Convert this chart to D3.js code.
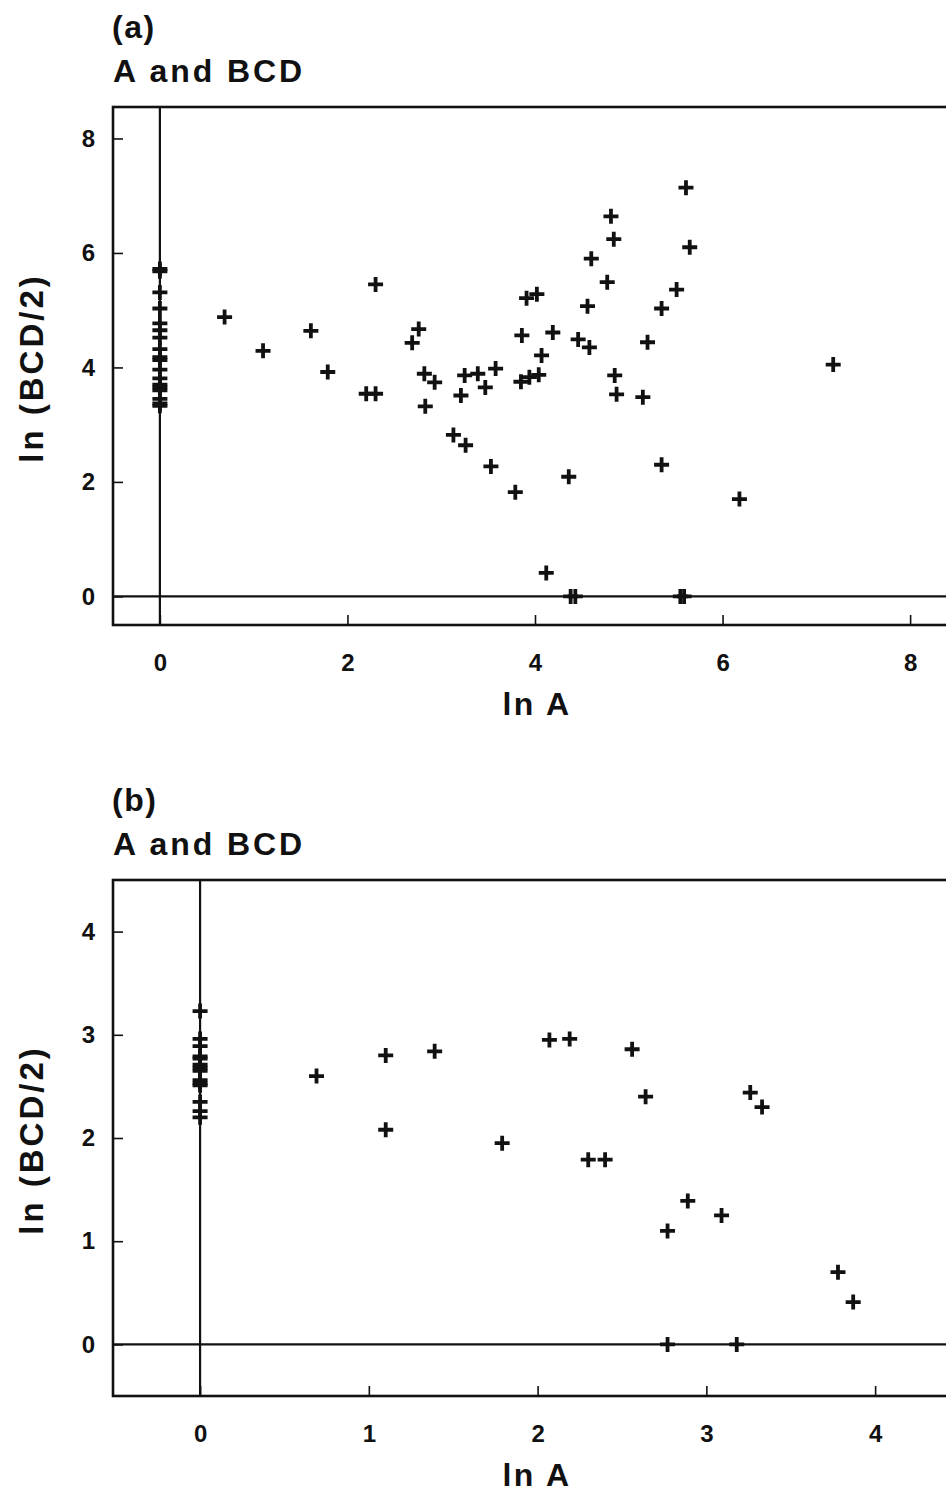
<!DOCTYPE html>
<html><head><meta charset="utf-8">
<script src="https://cdn.jsdelivr.net/npm/d3@7"></script>
<style>
html,body{margin:0;padding:0;background:#fff;}
svg{display:block;}
text{font-family:"Liberation Sans",Arial,Helvetica,sans-serif;font-weight:bold;fill:#111;}
</style></head>
<body>
<svg id="chart" width="946" height="1493"></svg>
<script>
// ---- Panel (a) data ----
const panelATitle = ["(a)", "A and BCD"];
const aZeroY = [5.72, 5.68, 5.31, 5.03, 4.77, 4.65, 4.52, 4.32, 4.18, 4.13, 3.96, 3.81, 3.70, 3.65, 3.60, 3.45, 3.37, 3.33];
const aX = [0.69,1.10,1.61,1.79,2.30,2.20,2.30,2.76,2.69,2.82,2.93,2.83,3.25,3.21,3.39,3.47,3.58,3.13,3.26,3.53,3.79,3.86,3.91,4.02,4.07,3.85,3.94,4.04,4.12,5.61,4.81,4.84,5.65,4.60,4.77,5.51,4.56,5.35,4.19,4.46,4.58,5.20,4.85,4.87,5.15,7.18,4.36,5.35,6.18,4.38,4.43,5.55,5.59];
const aY = [4.88,4.29,4.64,3.92,5.45,3.54,3.54,4.67,4.43,3.89,3.74,3.32,3.86,3.51,3.89,3.65,3.98,2.82,2.64,2.27,1.82,4.56,5.21,5.28,4.21,3.75,3.83,3.87,0.41,7.14,6.64,6.24,6.10,5.90,5.49,5.36,5.07,5.03,4.61,4.49,4.35,4.44,3.86,3.53,3.48,4.05,2.09,2.30,1.70,0,0,0,0];
const aXTicks = [0, 2, 4, 6, 8];
const aYTicks = [0, 2, 4, 6, 8];

// ---- Panel (b) data ----
const panelBTitle = ["(b)", "A and BCD"];
const bZeroY = [3.23, 2.96, 2.89, 2.79, 2.77, 2.71, 2.68, 2.65, 2.56, 2.53, 2.51, 2.35, 2.26, 2.20];
const bX = [0.69,1.10,1.10,1.39,1.79,2.07,2.19,2.56,2.64,3.26,3.33,2.30,2.40,2.89,3.09,2.77,3.78,3.87,2.77,3.18];
const bY = [2.60,2.80,2.08,2.84,1.95,2.95,2.96,2.86,2.40,2.44,2.30,1.79,1.79,1.39,1.25,1.10,0.70,0.41,0,0];
const bXTicks = [0, 1, 2, 3, 4];
const bYTicks = [0, 1, 2, 3, 4];

const xLabel = "ln A";
const yLabel = "ln (BCD/2)";

const svg = d3.select("#chart");
svg.append("rect").attr("width", 946).attr("height", 1493).attr("fill", "#fff");

function panel(cfg) {
  const g = svg.append("g");
  const x = d3.scaleLinear().domain(cfg.xDomain).range([113, cfg.right]);
  const y = d3.scaleLinear().domain(cfg.yDomain).range([cfg.bottom, cfg.top]);
  const [x0, x1] = x.range();
  const [y0, y1] = y.range();

  // titles
  g.append("text").attr("x", 112).attr("y", cfg.top - 69)
    .attr("font-size", 32).attr("letter-spacing", 1.5).text(cfg.title[0]);
  g.append("text").attr("x", 113).attr("y", cfg.top - 25)
    .attr("font-size", 32).attr("letter-spacing", 2.9).text(cfg.title[1]);

  // reference lines at 0
  g.append("line").attr("x1", x(0)).attr("x2", x(0)).attr("y1", y1).attr("y2", y0)
    .attr("stroke", "#111").attr("stroke-width", 2.2);
  g.append("line").attr("x1", x0).attr("x2", x1).attr("y1", y(0)).attr("y2", y(0))
    .attr("stroke", "#111").attr("stroke-width", 2.2);

  // frame
  g.append("rect").attr("x", x0).attr("y", y1).attr("width", x1 - x0).attr("height", y0 - y1)
    .attr("fill", "none").attr("stroke", "#111").attr("stroke-width", 2.6);

  // axes (inward ticks)
  const xAxis = d3.axisBottom(x).tickValues(cfg.xTicks).tickSize(-10).tickPadding(29)
    .tickFormat(d3.format("d"));
  const gx = g.append("g").attr("transform", `translate(0,${y0})`).call(xAxis);
  gx.select(".domain").remove();
  gx.selectAll(".tick line").attr("stroke", "#111").attr("stroke-width", 1.6);
  gx.selectAll(".tick text").attr("font-size", 24).attr("font-family", "Liberation Sans, Arial, sans-serif")
    .attr("font-weight", "bold").attr("fill", "#111");

  const yAxis = d3.axisLeft(y).tickValues(cfg.yTicks).tickSize(-10).tickPadding(18)
    .tickFormat(d3.format("d"));
  const gy = g.append("g").attr("transform", `translate(${x0},0)`).call(yAxis);
  gy.select(".domain").remove();
  gy.selectAll(".tick line").attr("stroke", "#111").attr("stroke-width", 1.6);
  gy.selectAll(".tick text").attr("font-size", 24).attr("font-family", "Liberation Sans, Arial, sans-serif")
    .attr("font-weight", "bold").attr("fill", "#111");

  // axis titles
  g.append("text").attr("x", 537).attr("y", y0 + 90).attr("text-anchor", "middle")
    .attr("font-size", 32).attr("letter-spacing", 2.5).text(xLabel);
  g.append("text").attr("transform", `translate(43,${(y0 + y1) / 2 + 2}) rotate(-90)`)
    .attr("text-anchor", "middle").attr("font-size", 33).attr("letter-spacing", 3).text(yLabel);

  // markers
  const plus = "M-7.5,0H7.5M0,-7.5V7.5";
  const pts = cfg.px.map((v, i) => [v, cfg.py[i]]).concat(cfg.zeroY.map(v => [0, v]));
  g.append("g").selectAll("path").data(pts).join("path")
    .attr("transform", d => `translate(${x(d[0])},${y(d[1])})`)
    .attr("d", plus).attr("stroke", "#111").attr("stroke-width", 3.8).attr("fill", "none");
}

panel({ title: panelATitle, xDomain: [-0.5, 8.5], right: 957, yDomain: [-0.5, 8.55], top: 107, bottom: 625,
  xTicks: aXTicks, yTicks: aYTicks, px: aX, py: aY, zeroY: aZeroY });
panel({ title: panelBTitle, xDomain: [-0.516, 4.5], right: 959.5, yDomain: [-0.5, 4.5], top: 880, bottom: 1396,
  xTicks: bXTicks, yTicks: bYTicks, px: bX, py: bY, zeroY: bZeroY });
</script>
</body></html>
